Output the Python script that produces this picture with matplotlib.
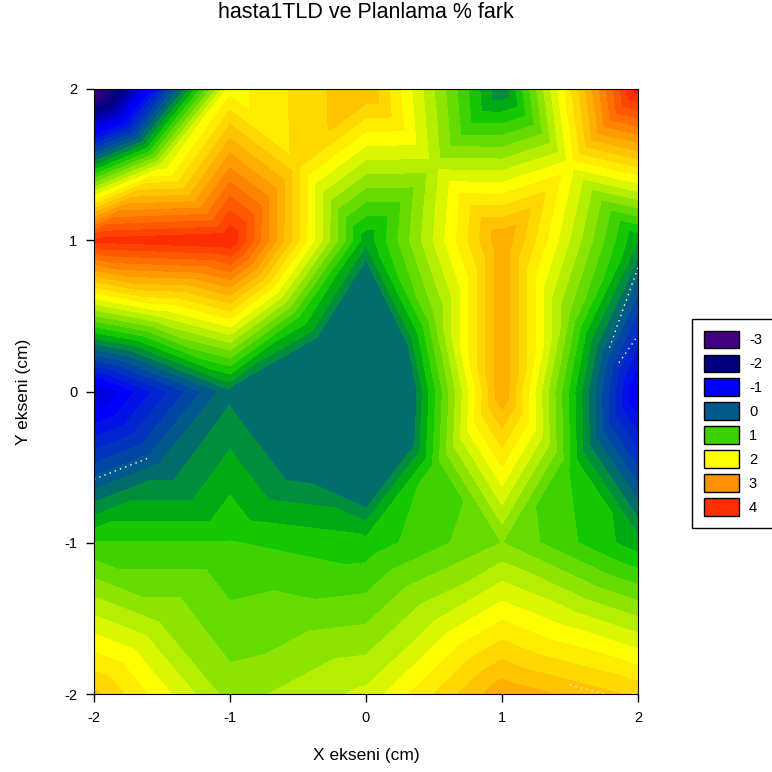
import numpy as np
import matplotlib
matplotlib.use('Agg')
import matplotlib.pyplot as plt
import matplotlib.tri as mtri
from matplotlib.colors import LinearSegmentedColormap
from matplotlib.patches import Patch

plt.rcParams['font.family'] = ['Liberation Sans', 'DejaVu Sans']
plt.rcParams['axes.unicode_minus'] = False

x_vals = [-2, -1, 0, 1, 2]
y_vals = [2, 1, 0, -1, -2]
# one row per y value (0.2 wide)
row_p2 = [-3.0, 2.1, 2.8, 0.4, 4.3]
row_p1 = [4.05, 4.2, 0.65, 2.98, 0.6]
row_00 = [-1.3, 0.34, -1.1, 2.98, -1.1]
row_m1 = [1.01, 1.01, 0.87, 1.4, 0.68]
row_m2 = [2.65, 1.5, 1.85, 2.95, 2.55]

legend_values = ['-3', '-2', '-1', '0', '1', '2', '3', '4']
legend_colors = ['#400080', '#000080', '#0000ff', '#005a8c',
                 '#3cd200', '#ffff00', '#ff9000', '#ff3000']

anchor_vals = [-3, -2, -1, 0, 0.2, 0.4, 0.6, 0.8, 1, 2, 3, 4, 4.4]
anchor_cols = ['#400080', '#000080', '#0000ff', '#005a8c', '#006e6a', '#008f3c',
               '#00aa14', '#14c800', '#3cd200', '#ffff00', '#ff9c00', '#ff3000', '#ff1000']

# white dotted bits left over on the original
dots_a_x = [-2, -1.8, -1.6]
dots_a_y = [-0.58, -0.51, -0.44]
dots_b_x = [1.79, 2.0]
dots_b_y = [0.29, 0.82]
dots_c_x = [1.86, 1.93, 2.0]
dots_c_y = [0.19, 0.28, 0.37]
dots_d_x = [1.5, 1.75]
dots_d_y = [-1.94, -2.0]

z = np.array([row_p2, row_p1, row_00, row_m1, row_m2], dtype=float)
xg, yg = np.meshgrid(x_vals, y_vals)

# each cell is cut in 4 triangles around its centre (mean of the corners)
cx = (xg[:-1, :-1] + xg[1:, 1:]) / 2
cy = (yg[:-1, :-1] + yg[1:, 1:]) / 2
cz = (z[:-1, :-1] + z[1:, :-1] + z[:-1, 1:] + z[1:, 1:]) / 4
px = np.concatenate([xg.ravel(), cx.ravel()])
py = np.concatenate([yg.ravel(), cy.ravel()])
pz = np.concatenate([z.ravel(), cz.ravel()])

ni, nj = z.shape
tris = []
for i in range(ni - 1):
    for j in range(nj - 1):
        a = i * nj + j
        b = a + 1
        c = (i + 1) * nj + j
        d = c + 1
        m = ni * nj + i * (nj - 1) + j
        tris += [[a, b, m], [b, d, m], [d, c, m], [c, a, m]]
tri_all = mtri.Triangulation(px, py, np.array(tris))

levels = np.round(np.arange(-3.2, 4.61, 0.2), 1)
norm_pos = [(v + 3) / 7.4 for v in anchor_vals]
cmap = LinearSegmentedColormap.from_list('bands', list(zip(norm_pos, anchor_cols)))
band_cols = [cmap(max(0, (v + 3) / 7.4)) for v in levels[:-1]]

fig = plt.figure(figsize=(7.72, 7.72), dpi=100)
ax = fig.add_axes([94 / 772, 1 - 694 / 772, 544 / 772, 605 / 772])
cs = ax.tricontourf(tri_all, pz, levels=levels, colors=band_cols, antialiased=False)
cs.set_edgecolor('face')
cs.set_linewidth(0.4)

# the middle low is filled flat in the original, not banded
tri_mid = mtri.Triangulation(px, py, np.array(tris))
tri_mid.set_mask(np.abs(px[np.array(tris)]).max(axis=1) > 1)
ax.tricontourf(tri_mid, pz, levels=[-10, 0.4], colors=['#006e6a'], antialiased=False)

for dx, dy in [(dots_a_x, dots_a_y), (dots_b_x, dots_b_y), (dots_c_x, dots_c_y), (dots_d_x, dots_d_y)]:
    ax.plot(dx, dy, color='white', lw=1, ls=(0, (1, 3)), clip_on=True)

ax.set_xlim(-2, 2)
ax.set_ylim(-2, 2)
ax.set_xticks(x_vals)
ax.set_yticks(y_vals)
ax.tick_params(direction='out', length=6, width=1, labelsize=10.5, colors='black', pad=6)
ax.set_xlabel('X ekseni (cm)', fontsize=12.5, labelpad=17)
ax.set_ylabel('Y ekseni (cm)', fontsize=12.5, labelpad=24)
fig.text(366 / 772, 1 - 13 / 772, 'hasta1TLD ve Planlama % fark', fontsize=15.5, ha='center', va='center')

handles = [Patch(facecolor=c, edgecolor='black', lw=1) for c in legend_colors]
fig.legend(handles, legend_values, loc='upper left', bbox_to_anchor=(692 / 772, 1 - 319 / 772),
           bbox_transform=fig.transFigure, fontsize=10.5, frameon=True, fancybox=False,
           edgecolor='black', framealpha=1, borderaxespad=0, borderpad=0.8,
           handlelength=2.4, handleheight=1.5, labelspacing=0.42, handletextpad=0.7)

fig.savefig('out.png', dpi=100)
